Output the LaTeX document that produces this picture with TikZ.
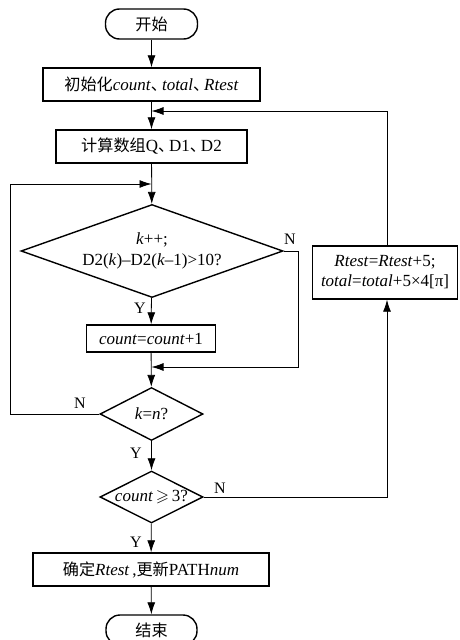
\documentclass[tikz,border=0pt]{standalone}
\usepackage{amssymb}
\usepackage{fontspec}
\setmainfont{Liberation Serif}
\newfontfamily\cjk[Scale=0.95]{Noto Sans CJK SC}
\newcommand{\dun}{{\cjk 、}\kern-0.3em}
\usetikzlibrary{shapes.geometric,arrows.meta}

\begin{document}
\begin{tikzpicture}[x=1pt, y=-1pt, font=\fontsize{17}{20}\selectfont,
	box/.style={rectangle, draw, line width=1.4pt, inner sep=0pt},
	term/.style={rectangle, draw, line width=1.4pt, rounded corners=14pt, minimum width=92pt, minimum height=30pt},
	choice/.style={diamond, draw, line width=1.4pt, inner sep=0pt, aspect=1.5},
	line/.style={black, line width=0.8pt},
	yn/.style={font=\fontsize{16}{18}\selectfont}]
\useasboundingbox (0,0) rectangle (460,640);

\node[term] (start) at (151.5,24) {\cjk 开始};
\node[box, minimum width=217pt, minimum height=33pt] (init) at (151.5,84.5) {{\cjk 初始化}\textit{count}\dun\textit{total}\dun\textit{Rtest}};
\node[box, minimum width=191pt, minimum height=33pt] (calc) at (151.5,146.5) {{\cjk 计算数组}Q\dun D1\dun D2};
\node[choice, minimum width=262pt, minimum height=93pt] (kinc) at (152,251) {\makebox[0pt]{\raisebox{3pt}{\begin{tabular}{@{}c@{}}\textit{k}++;\\[1pt] D2(\textit{k})--D2(\textit{k}--1)>10?\end{tabular}}}};
\node[box, minimum width=129pt, minimum height=27pt] (cnt) at (151,338.5) {\textit{count}=\textit{count}+1};
\node[choice, minimum width=103pt, minimum height=53pt] (keqn) at (151.5,414) {\makebox[0pt]{\textit{k}=\textit{n}?}};
\node[choice, minimum width=103pt, minimum height=52pt] (cge) at (151.5,497) {\makebox[0pt]{\textit{count}\,$\geqslant$\,3?}};
\node[box, minimum width=236pt, minimum height=33pt] (fix) at (151,569.5) {{\cjk 确定}\textit{Rtest}\,,{\cjk 更新}PATH\textit{num}};
\node[term, minimum width=91pt] (stop) at (151.5,630) {\cjk 结束};
\node[box, minimum width=145pt, minimum height=53pt, align=center] (upd) at (385,272.5) {\textit{Rtest}=\textit{Rtest}+5;\\ \textit{total}=\textit{total}+5×4[π]};

% junctions
\coordinate (j1) at (151.5,111);
\coordinate (j2) at (151.5,184);
\coordinate (j3) at (151.5,367);
\coordinate (cN) at (298,251);
\coordinate (cL) at (10,414);
\coordinate (cR) at (387,497);

\draw[->,>={Latex[length=12pt,width=8pt]}, line] (start) -- (init);
\draw[->,>={Latex[length=12pt,width=8pt]}, line] (init) -- (calc);
\draw[->,>={Latex[length=12pt,width=8pt]}, line] (calc) -- (kinc);
\draw[->,>={Latex[length=12pt,width=8pt]}, line] (kinc) -- (cnt);
\draw[->,>={Latex[length=12pt,width=8pt]}, line] (cnt) -- (keqn);
\draw[->,>={Latex[length=12pt,width=8pt]}, line] (keqn) -- (cge);
\draw[->,>={Latex[length=12pt,width=8pt]}, line] (cge) -- (fix);
\draw[->,>={Latex[length=12pt,width=8pt]}, line] (fix) -- (stop);

\draw[->,>={Latex[length=12pt,width=8pt]}, line] (kinc.east) -- (cN) |- (j3);
\draw[->,>={Latex[length=12pt,width=8pt]}, line] (keqn.west) -- (cL) |- (j2);
\draw[->,>={Latex[length=12pt,width=8pt]}, line] (cge.east) -- (cR) -- (upd.south -| cR);
\draw[->,>={Latex[length=12pt,width=8pt]}, line] (upd.north -| cR) |- (j1);

\node[yn] (n1) at (290,239) {N};
\node[yn] (y1) at (140,308) {Y};
\node[yn] (n2) at (80,403) {N};
\node[yn] (y2) at (136,453) {Y};
\node[yn] (n3) at (220,488) {N};
\node[yn] (y3) at (136,542) {Y};

\end{tikzpicture}
\end{document}
